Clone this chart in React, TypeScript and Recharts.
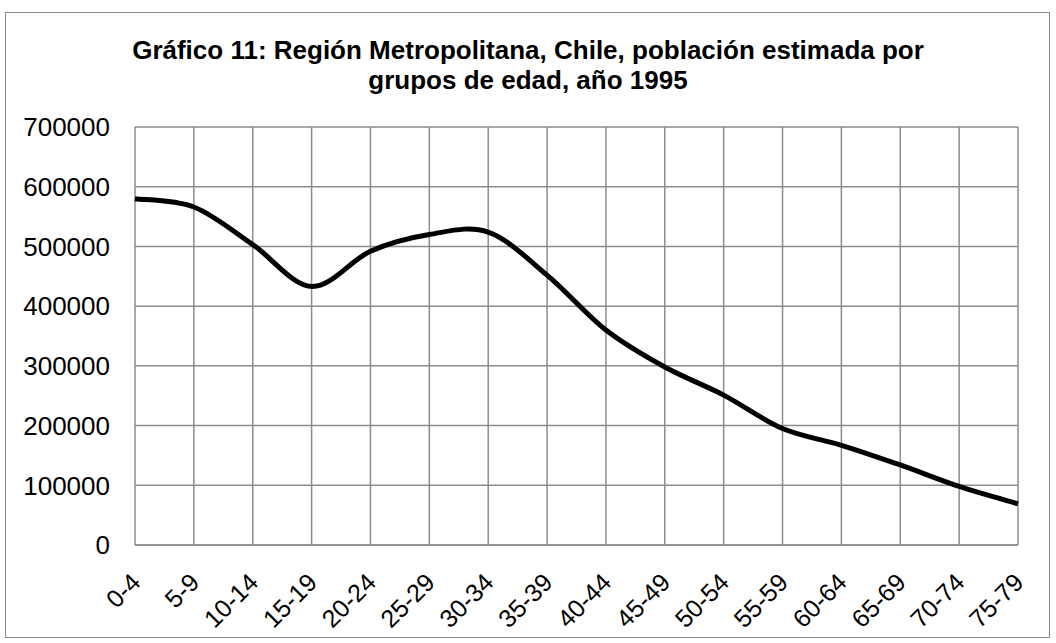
import { LineChart, Line, XAxis, YAxis, CartesianGrid } from "recharts"

const AGE_GROUPS = [
  "0-4", "5-9", "10-14", "15-19", "20-24", "25-29", "30-34", "35-39",
  "40-44", "45-49", "50-54", "55-59", "60-64", "65-69", "70-74", "75-79",
]

const POPULATION = [
  580000, 566000, 503000, 433000, 492000, 520000, 524000, 452000,
  360000, 298000, 251000, 195000, 167000, 134000, 98000, 69000,
]

const Y_TICKS = [0, 100000, 200000, 300000, 400000, 500000, 600000, 700000]

const TITLE_LINES = [
  "Gráfico 11: Región Metropolitana, Chile, población estimada por",
  "grupos de edad, año 1995",
]

const FONT = "'Liberation Sans', Arial, sans-serif"

// smoothed line like the spreadsheet one (catmull-rom style bezier through every point)
function smoothCurve(context: any) {
  let pts: [number, number][] = []
  return {
    areaStart() {},
    areaEnd() {},
    lineStart() { pts = [] },
    lineEnd() {
      const n = pts.length
      if (!n) return
      context.moveTo(pts[0][0], pts[0][1])
      for (let i = 0; i < n - 1; i++) {
        const p0 = pts[Math.max(i - 1, 0)]
        const p1 = pts[i]
        const p2 = pts[i + 1]
        const p3 = pts[Math.min(i + 2, n - 1)]
        context.bezierCurveTo(
          p1[0] + (p2[0] - p0[0]) / 6, p1[1] + (p2[1] - p0[1]) / 6,
          p2[0] - (p3[0] - p1[0]) / 6, p2[1] - (p3[1] - p1[1]) / 6,
          p2[0], p2[1],
        )
      }
    },
    point(x: number, y: number) { pts.push([+x, +y]) },
  }
}

function AgeTick({ x, y, payload }: { x?: number; y?: number; payload?: { value: string } }) {
  return (
    <g transform={`translate(${x},${y})`}>
      <text
        x={0}
        y={0}
        transform="translate(7, 31) rotate(-45)"
        textAnchor="end"
        fontSize={25}
        fontFamily={FONT}
        fill="#000"
      >
        {payload?.value}
      </text>
    </g>
  )
}

export default function App() {
  const data = AGE_GROUPS.map((g, i) => ({ grupo: g, poblacion: POPULATION[i] }))

  return (
    <div style={{ position: "absolute", left: 0, top: 0, width: 1056, height: 643, background: "#fff" }}>
      {/* chart frame */}
      <div style={{
        position: "absolute", left: 5, top: 12, width: 1043, height: 624,
        border: "1px solid #888",
      }} />

      <div style={{
        position: "absolute", left: 0, top: 35, width: 1056, textAlign: "center",
        fontFamily: FONT, fontWeight: 700, fontSize: 26, lineHeight: "30px", color: "#000",
      }}>
        {TITLE_LINES.map((t) => <div key={t}>{t}</div>)}
      </div>

      <div style={{ position: "absolute", left: 0, top: 0 }}>
        <LineChart
          width={1056}
          height={643}
          data={data}
          margin={{ top: 127, right: 38, bottom: 0, left: 25 }}
        >
          <CartesianGrid stroke="#8c8c8c" strokeWidth={1.5} />
          <XAxis
            dataKey="grupo"
            interval={0}
            padding={{ left: 0, right: 0 }}
            axisLine={{ stroke: "#8c8c8c", strokeWidth: 1.5 }}
            tickLine={false}
            tick={<AgeTick />}
            height={98}
          />
          <YAxis
            domain={[0, 700000]}
            ticks={Y_TICKS}
            width={110}
            axisLine={false}
            tickLine={false}
            tickSize={0}
            tickMargin={25}
            tick={{ fontSize: 26, fontFamily: FONT, fill: "#000" }}
          />
          <Line
            type={smoothCurve as any}
            dataKey="poblacion"
            stroke="#000"
            strokeWidth={5}
            dot={false}
            isAnimationActive={false}
          />
        </LineChart>
      </div>
    </div>
  )
}
